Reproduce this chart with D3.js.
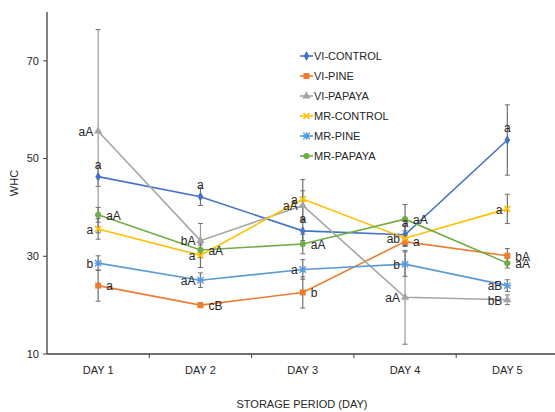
<!DOCTYPE html>
<html>
<head>
<meta charset="utf-8">
<script src="https://cdn.jsdelivr.net/npm/d3@7"></script>
<style>
  body { margin: 0; background: #fff; }
  svg { font-family: "Liberation Sans", Arial, sans-serif; }
</style>
</head>
<body>
<div id="chart"></div>
<script>
const days = ["DAY 1", "DAY 2", "DAY 3", "DAY 4", "DAY 5"];
const seriesNames = ["VI-CONTROL", "VI-PINE", "VI-PAPAYA", "MR-CONTROL", "MR-PINE", "MR-PAPAYA"];
const seriesColors = ["#4472C4", "#ED7D31", "#A5A5A5", "#FFC000", "#5B9BD5", "#70AD47"];

// mean WHC per day
const viControl = [46.3, 42.2, 35.2, 34.4, 53.8];
const viPine = [24.0, 20.0, 22.6, 33.0, 30.1];
const viPapaya = [55.6, 33.2, 40.4, 21.6, 21.1];
const mrControl = [35.6, 30.2, 41.7, 33.7, 39.7];
const mrPine = [28.6, 25.1, 27.3, 28.4, 24.0];
const mrPapaya = [38.5, 31.3, 32.5, 37.6, 28.6];

// error bar half widths
const viControlErr = [2.0, 1.8, 2.0, 2.0, 7.2];
const viPineErr = [3.2, 0.5, 3.2, 1.0, 1.5];
const viPapayaErr = [20.8, 3.5, 3.0, 9.6, 1.0];
const mrControlErr = [2.1, 2.5, 4.0, 1.5, 3.0];
const mrPineErr = [1.5, 1.5, 2.0, 2.5, 1.2];
const mrPapayaErr = [1.5, 1.0, 2.0, 3.0, 1.0];

// significance letters
const viControlTxt = ["a", "a", "a", "a", "a"];
const viPineTxt = ["a", "cB", "b", "a", "bA"];
const viPapayaTxt = ["aA", "bA", "aA", "aA", "bB"];
const mrControlTxt = ["a", "a", "a", "ab", "a"];
const mrPineTxt = ["b", "aA", "a", "b", "aB"];
const mrPapayaTxt = ["aA", "aA", "aA", "aA", "aA"];

const yTicks = [10, 30, 50, 70];

const series = [
  { values: viControl, err: viControlErr, txt: viControlTxt, marker: "diamond", place: "top" },
  { values: viPine, err: viPineErr, txt: viPineTxt, marker: "square", place: "right" },
  { values: viPapaya, err: viPapayaErr, txt: viPapayaTxt, marker: "triangle", place: "left" },
  { values: mrControl, err: mrControlErr, txt: mrControlTxt, marker: "x", place: "left" },
  { values: mrPine, err: mrPineErr, txt: mrPineTxt, marker: "star", place: "left" },
  { values: mrPapaya, err: mrPapayaErr, txt: mrPapayaTxt, marker: "circle", place: "right" }
].map((s, i) => ({ ...s, name: seriesNames[i], color: seriesColors[i] }));

const W = 555, H = 412;
const plot = { left: 47, top: 12, right: 558.5, bottom: 354 };

const svg = d3.select("#chart").append("svg")
    .attr("width", W).attr("height", H);

const x = d3.scaleBand().domain(days).range([plot.left, plot.right]);
const cx = d => x(d) + x.bandwidth() / 2;
const y = d3.scaleLinear().domain([10, 80]).range([plot.bottom, plot.top]);

// axes
const axisColor = "#404040";
svg.append("line").attr("x1", plot.left).attr("x2", plot.left)
    .attr("y1", plot.top).attr("y2", plot.bottom)
    .attr("stroke", axisColor).attr("stroke-width", 1.3);
svg.append("line").attr("x1", plot.left).attr("x2", W)
    .attr("y1", plot.bottom).attr("y2", plot.bottom)
    .attr("stroke", axisColor).attr("stroke-width", 1.3);

yTicks.forEach(t => {
    svg.append("line").attr("x1", plot.left - 4).attr("x2", plot.left)
        .attr("y1", y(t)).attr("y2", y(t)).attr("stroke", axisColor);
    svg.append("text").attr("x", plot.left - 8).attr("y", y(t)).attr("dy", "0.35em")
        .attr("text-anchor", "end").attr("font-size", 11).attr("fill", "#262626").text(t);
});

days.forEach((d, i) => {
    if (i > 0) {
        svg.append("line").attr("x1", x(d)).attr("x2", x(d))
            .attr("y1", plot.bottom).attr("y2", plot.bottom + 4).attr("stroke", axisColor);
    }
    svg.append("text").attr("x", cx(d)).attr("y", 374)
        .attr("text-anchor", "middle").attr("font-size", 11).attr("fill", "#262626").text(d);
});

svg.append("text").attr("x", 302).attr("y", 408).attr("text-anchor", "middle")
    .attr("font-size", 11).attr("fill", "#262626").text("STORAGE PERIOD (DAY)");
svg.append("text").attr("transform", "translate(18,183) rotate(-90)")
    .attr("text-anchor", "middle").attr("font-size", 11).attr("fill", "#262626").text("WHC");

// error bars
const errG = svg.append("g");
series.forEach(s => {
    s.values.forEach((v, i) => {
        const px = cx(days[i]);
        const y1 = y(v + s.err[i]), y2 = y(v - s.err[i]);
        errG.append("line").attr("x1", px).attr("x2", px).attr("y1", y1).attr("y2", y2)
            .attr("stroke", s.name === "VI-PAPAYA" ? "#9a9a9a" : "#6f6f6f").attr("stroke-width", 1.2);
        [y1, y2].forEach(yy => errG.append("line")
            .attr("x1", px - 2.5).attr("x2", px + 2.5).attr("y1", yy).attr("y2", yy)
            .attr("stroke", "#6f6f6f").attr("stroke-width", 1));
    });
});

// lines
const line = d3.line().x((v, i) => cx(days[i])).y(v => y(v));
series.forEach(s => {
    svg.append("path").attr("d", line(s.values)).attr("fill", "none")
        .attr("stroke", s.color).attr("stroke-width", 1.6);
});

function drawMarker(g, type, px, py, color) {
    if (type === "x") {
        const r = 3;
        g.append("path").attr("d", `M${px - r},${py - r}L${px + r},${py + r}M${px - r},${py + r}L${px + r},${py - r}`)
            .attr("stroke", color).attr("stroke-width", 1.6).attr("fill", "none");
    } else if (type === "star") {
        const r = 3.2;
        g.append("path").attr("d", `M${px - r},${py - r}L${px + r},${py + r}M${px - r},${py + r}L${px + r},${py - r}M${px},${py - r - 0.5}L${px},${py + r + 0.5}M${px - r - 0.5},${py}L${px + r + 0.5},${py}`)
            .attr("stroke", color).attr("stroke-width", 1.4).attr("fill", "none");
    } else {
        const sym = { diamond: d3.symbolDiamond, square: d3.symbolSquare, triangle: d3.symbolTriangle, circle: d3.symbolCircle }[type];
        const size = { diamond: 28, square: 36, triangle: 30, circle: 30 }[type];
        g.append("path").attr("d", d3.symbol().type(sym).size(size)())
            .attr("transform", `translate(${px},${py})`).attr("fill", color);
    }
}

// markers
const markG = svg.append("g");
series.forEach(s => {
    s.values.forEach((v, i) => drawMarker(markG, s.marker, cx(days[i]), y(v), s.color));
});

// point labels
const labG = svg.append("g").attr("font-size", 12).attr("fill", "#262626");
series.forEach(s => {
    s.values.forEach((v, i) => {
        const px = cx(days[i]), py = y(v);
        const t = labG.append("text").text(s.txt[i]);
        if (s.place === "top") {
            t.attr("x", px).attr("y", py - 8).attr("text-anchor", "middle");
        } else if (s.place === "right") {
            t.attr("x", px + 8).attr("y", py).attr("dy", "0.4em");
        } else {
            t.attr("x", px - 5).attr("y", py).attr("dy", "0.4em").attr("text-anchor", "end");
        }
    });
});

// legend
const legend = svg.append("g").attr("transform", "translate(300,56)");
series.forEach((s, i) => {
    const ly = i * 20;
    legend.append("line").attr("x1", 0).attr("x2", 13).attr("y1", ly).attr("y2", ly)
        .attr("stroke", s.color).attr("stroke-width", 1.6);
    drawMarker(legend, s.marker, 6.5, ly, s.color);
    legend.append("text").attr("x", 14).attr("y", ly).attr("dy", "0.36em")
        .attr("font-size", 11).attr("fill", "#262626").text(s.name);
});
</script>
</body>
</html>
